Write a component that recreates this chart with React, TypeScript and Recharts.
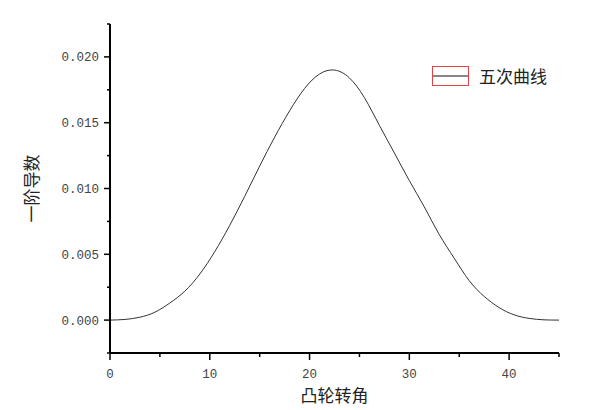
import React from "react";
import { LineChart, Line, XAxis, YAxis, Legend, Label } from "recharts";

// cam angle (x) and first derivative values
const angles = [
  0, 1.5, 3, 4.5, 6, 7.5, 9, 10.5, 12, 13.5, 15, 16.5, 18, 19.5, 21, 22.5, 24,
  25.5, 27, 28.5, 30, 31.5, 33, 34.5, 36, 37.5, 39, 40.5, 42, 43.5, 45,
];
const derivative = [
  0, 0.00005, 0.00022, 0.0006, 0.0013, 0.0022, 0.0035, 0.0052, 0.0072, 0.0094,
  0.0117, 0.0139, 0.0159, 0.0176, 0.0187, 0.019, 0.0184, 0.0169, 0.0148, 0.0127,
  0.0106, 0.0086, 0.0065, 0.0047, 0.003, 0.0018, 0.00095, 0.0004, 0.00013,
  0.00002, 0,
];
const xTicks = [0, 5, 10, 15, 20, 25, 30, 35, 40, 45];
const yTicks = [
  -0.0025, 0, 0.0025, 0.005, 0.0075, 0.01, 0.0125, 0.015, 0.0175, 0.02, 0.0225,
];
const seriesName = "五次曲线";
const xTitle = "凸轮转角";
const yTitle = "一阶导数";

const data = angles.map((a, i) => ({ angle: a, value: derivative[i] }));

const numFont = "'Liberation Mono', 'DejaVu Sans Mono', monospace";
const cjkFont = "'Noto Sans CJK SC', 'Noto Sans', sans-serif";

const XTick = (props: any) => {
  const { x, y, payload } = props;
  const major = payload.value % 10 === 0;
  return (
    <g>
      <line x1={x} x2={x} y1={y} y2={y + (major ? 7 : 4)} stroke="#000" strokeWidth={1.5} />
      {major && (
        <text x={x} y={y + 25} textAnchor="middle" fontSize={12.5} fontFamily={numFont} fill="#444">
          {payload.value}
        </text>
      )}
    </g>
  );
};

const YTick = (props: any) => {
  const { x, y, payload } = props;
  const major = Math.round(payload.value / 0.0025) % 2 === 0;
  return (
    <g>
      <line x1={x} x2={x - (major ? 6 : 3)} y1={y} y2={y} stroke="#000" strokeWidth={1.5} />
      {major && (
        <text x={x - 11} y={y + 4.5} textAnchor="end" fontSize={12.5} fontFamily={numFont} fill="#444">
          {payload.value.toFixed(3)}
        </text>
      )}
    </g>
  );
};

const LegendBox = () => (
  <div style={{ display: "flex", alignItems: "center", fontFamily: cjkFont, fontSize: 17, lineHeight: "20px", color: "#222" }}>
    <svg width={37} height={20}>
      <rect x={0.5} y={0.5} width={36} height={19} fill="#fff" stroke="#e2434b" />
      <line x1={1} x2={36} y1={10} y2={10} stroke="#111" strokeWidth={1} />
    </svg>
    <span style={{ marginLeft: 10 }}>{seriesName}</span>
  </div>
);

export default function App() {
  return (
    <div style={{ position: "absolute", left: 0, top: 0, width: 600, height: 410, background: "#fff" }}>
      <LineChart width={600} height={410} data={data} margin={{ top: 24, right: 41, bottom: 0, left: 0 }}>
        <XAxis
          dataKey="angle"
          type="number"
          domain={[0, 45]}
          ticks={xTicks}
          interval={0}
          height={57}
          tickSize={0}
          tickMargin={0}
          tickLine={false}
          tick={<XTick />}
          axisLine={{ stroke: "#000", strokeWidth: 2 }}
        >
          <Label
            content={(p: any) => {
              const vb = p.viewBox;
              return (
                <text
                  x={vb.x + vb.width / 2}
                  y={vb.y + 49}
                  textAnchor="middle"
                  fontSize={17}
                  fontFamily={cjkFont}
                  fill="#222"
                >
                  {xTitle}
                </text>
              );
            }}
          />
        </XAxis>
        <YAxis
          type="number"
          domain={[-0.0025, 0.0225]}
          allowDataOverflow
          ticks={yTicks}
          interval={0}
          width={110}
          tickSize={0}
          tickMargin={0}
          tickLine={false}
          tick={<YTick />}
          axisLine={{ stroke: "#000", strokeWidth: 2 }}
        >
          <Label
            content={(p: any) => {
              const vb = p.viewBox;
              const cx = vb.x + 30;
              const cy = vb.y + vb.height / 2;
              return (
                <text
                  x={cx}
                  y={cy}
                  transform={`rotate(-90, ${cx}, ${cy})`}
                  textAnchor="middle"
                  dominantBaseline="central"
                  fontSize={17}
                  fontFamily={cjkFont}
                  fill="#222"
                >
                  {yTitle}
                </text>
              );
            }}
          />
        </YAxis>
        <Legend
          layout="vertical"
          align="center"
          verticalAlign="middle"
          wrapperStyle={{ top: 66, left: 432, width: "auto", height: "auto" }}
          content={() => <LegendBox />}
        />
        <Line
          type="natural"
          dataKey="value"
          name={seriesName}
          stroke="#333"
          strokeWidth={1}
          dot={false}
          isAnimationActive={false}
        />
      </LineChart>
    </div>
  );
}
